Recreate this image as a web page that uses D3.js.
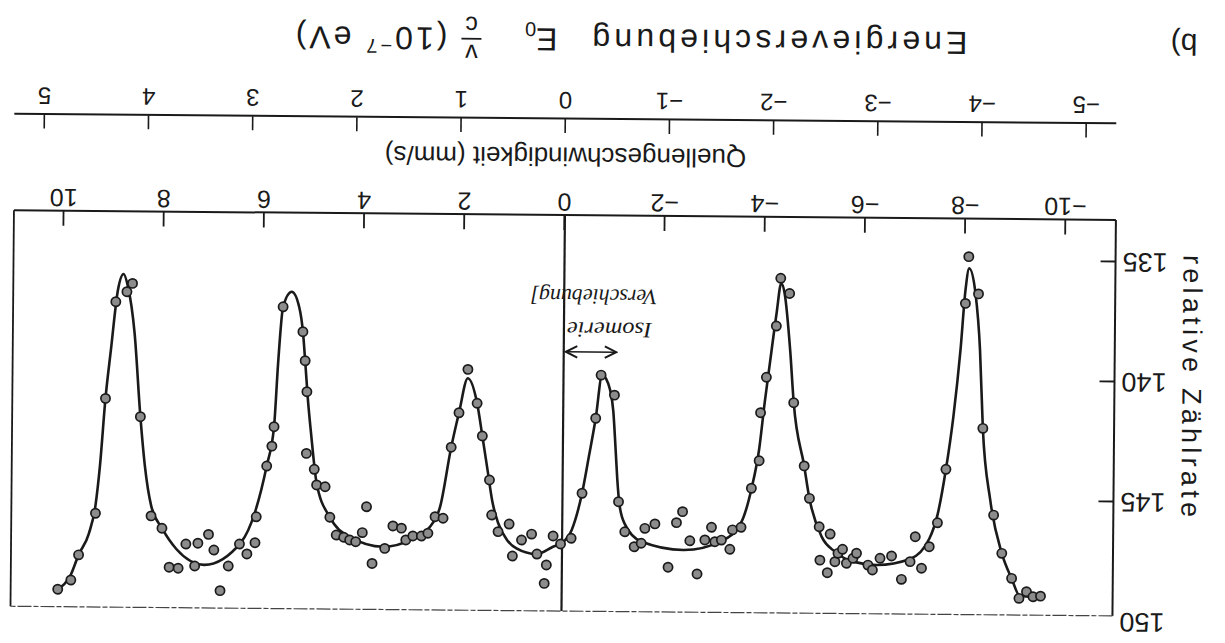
<!DOCTYPE html>
<html>
<head>
<meta charset="utf-8">
<script src="https://cdn.jsdelivr.net/npm/d3@7"></script>
<style>
  body { margin: 0; background: #fff; }
  text { font-family: "Liberation Sans", Arial, sans-serif; fill: #1a1a1a; }
</style>
</head>
<body>
<script>
// Mössbauer-Spektrum (Fe-Sextett), Vorlage ist um 180° gedreht gedruckt

// Messpunkte: [Quellengeschwindigkeit mm/s, relative Zählrate]
var messpunkte = [
  [10.06,149.02],[9.80,148.63],[9.65,147.58],[9.32,145.84],[9.14,141.05],[8.95,137.02],[8.73,136.60],[8.62,136.25],
  [8.44,141.80],[8.21,145.93],[7.99,146.44],[7.84,148.06],[7.66,148.10],[7.51,147.09],[7.33,148.00],[7.27,147.05],
  [7.06,146.68],[6.95,147.33],[6.82,149.02],[6.66,147.99],[6.44,147.07],[6.29,147.48],[6.13,147.01],[6.11,145.93],
  [5.91,143.81],[5.81,142.98],[5.77,142.17],[5.61,137.17],
  [5.21,138.20],[5.16,139.41],[5.12,140.70],[5.12,143.27],[4.96,143.93],[4.91,144.58],[4.74,144.65],[4.64,145.92],
  [4.51,146.66],[4.36,146.75],[4.24,146.86],[4.12,146.93],[3.99,146.55],[3.91,145.47],[3.79,147.83],[3.54,147.20],
  [3.38,146.26],[3.21,146.35],[3.12,146.84],[2.98,146.67],[2.81,146.67],[2.68,146.55],[2.54,145.86],[2.38,145.92],
  [2.23,142.96],[2.08,141.52],[1.91,139.71],[1.72,141.12],[1.61,142.48],[1.46,144.31],[1.41,145.77],[1.28,146.46],
  [1.06,146.14],[0.99,147.47],[0.81,146.80],[0.61,146.55],[0.50,147.38],[0.31,147.83],[0.35,148.60],[0.18,146.62],
  [0.03,146.95],[-0.18,146.71],[-0.39,144.83],[-0.65,141.70],[-0.75,139.90],[-1.02,140.73],[-1.12,145.17],[-1.25,146.42],
  [-1.44,147.04],[-1.58,146.89],[-1.65,146.27],[-1.85,146.08],[-2.12,147.88],[-2.28,146.02],[-2.40,145.56],[-2.55,146.77],
  [-2.70,148.15],[-2.85,146.73],[-2.98,146.20],[-3.05,146.80],[-3.18,146.73],[-3.35,147.11],[-3.40,146.30],[-3.57,146.19],
  [-3.77,144.56],[-3.92,143.41],[-3.94,141.41],[-4.05,139.93],[-4.24,137.79],[-4.32,135.80],[-4.50,136.43],[-4.60,140.98],
  [-4.82,143.61],[-4.93,144.96],[-5.13,146.14],[-5.15,147.53],[-5.30,148.05],[-5.35,146.44],[-5.45,147.59],
  [-5.51,147.24],[-5.60,147.07],[-5.68,147.65],[-5.81,147.44],[-5.88,147.23],[-6.11,147.72],[-6.20,147.92],[-6.35,147.43],
  [-6.58,147.33],[-6.78,148.30],[-6.95,147.56],[-7.05,146.52],[-7.18,147.83],[-7.33,146.93],[-7.49,145.93],[-7.65,143.70],
  [-8.01,136.78],[-8.07,134.83],[-8.27,136.38],[-8.38,141.98],[-8.61,145.59],[-8.78,147.18],[-8.98,148.22],[-9.13,149.05],
  [-9.28,148.77],[-9.41,148.98],[-9.56,148.95]
];

// angepasste Kurve
var fitkurve = [
  [-9.45,148.98],[-9.15,148.95],[-8.98,148.22],[-8.78,147.18],[-8.54,144.96],[-8.38,141.98],[-8.31,138.72],[-8.21,136.36],
  [-8.08,135.32],[-8.01,136.22],[-7.92,138.73],[-7.79,141.50],[-7.65,143.70],[-7.49,145.60],[-7.33,146.60],[-6.95,147.45],
  [-6.28,147.71],[-5.81,147.58],[-5.45,147.17],[-5.18,146.55],[-4.93,144.96],[-4.82,143.61],[-4.60,140.98],[-4.52,138.79],
  [-4.40,136.43],[-4.33,136.01],[-4.24,137.30],[-4.12,139.30],[-4.02,141.00],[-3.92,142.90],[-3.77,144.60],[-3.57,146.00],
  [-3.20,146.75],[-2.42,147.16],[-1.58,146.82],[-1.25,146.10],[-1.14,145.30],[-1.09,144.20],[-1.05,142.90],[-1.00,141.40],
  [-0.93,140.50],[-0.85,140.05],[-0.77,139.90],[-0.65,141.70],[-0.52,143.30],[-0.39,144.83],[-0.19,146.36],[0.01,146.92],
  [0.18,147.07],[0.51,147.38],[0.91,147.15],[1.10,146.80],[1.28,146.10],[1.40,145.20],[1.50,143.90],[1.61,142.48],
  [1.72,141.12],[1.91,140.08],[2.08,141.52],[2.23,142.96],[2.44,145.44],[2.64,146.28],[3.00,146.80],[3.57,147.13],
  [4.24,146.73],[4.64,145.92],[4.91,144.51],[5.03,142.43],[5.10,141.00],[5.16,139.41],[5.21,138.20],[5.29,137.16],
  [5.44,136.54],[5.61,137.17],[5.70,139.53],[5.77,142.17],[5.91,143.81],[6.13,145.70],[6.41,147.00],[7.14,147.95],
  [7.70,147.30],[7.99,146.44],[8.21,145.50],[8.34,143.88],[8.44,141.80],[8.57,138.32],[8.71,136.39],[8.80,135.86],
  [8.91,136.53],[9.04,139.03],[9.14,141.05],[9.24,143.90],[9.32,145.50],[9.45,146.70],[9.65,147.58],[9.80,148.40],
  [10.06,149.02]
];

var vTicks = [-10, -8, -6, -4, -2, 0, 2, 4, 6, 8, 10];
var eTicks = [-5, -4, -3, -2, -1, 0, 1, 2, 3, 4, 5];
var zTicks = [135, 140, 145, 150];
var mmProEinheit = 2.08;   // 1e-7 eV entspricht 2,08 mm/s (14,4 keV)

var width = 1225, height = 643;
var svg = d3.select("body").append("svg")
    .attr("width", width)
    .attr("height", height);

// ganze Abbildung steht auf dem Kopf (leicht schief gescannt)
var g = svg.append("g").attr("transform", "rotate(180.5, 612.5, 321.5)");

var boxTop = 31.5, boxBottom = 427.5, boxLeft = 110, boxRight = 1212;

var x = d3.scaleLinear().domain([-11, 11]).range([boxLeft, boxRight]);
var xE = d3.scaleLinear().domain([-11 / mmProEinheit, 11 / mmProEinheit]).range([boxLeft, boxRight]);
var y = d3.scaleLinear().domain([135, 150]).range([385.4, 25.4]);

// Rahmen
g.append("line").attr("x1", boxLeft).attr("x2", boxLeft).attr("y1", boxTop).attr("y2", boxBottom)
  .attr("stroke", "#1a1a1a").attr("stroke-width", 2);
g.append("line").attr("x1", boxRight).attr("x2", boxRight).attr("y1", boxTop).attr("y2", boxBottom)
  .attr("stroke", "#1a1a1a").attr("stroke-width", 1.8);
g.append("line").attr("x1", boxLeft).attr("x2", boxRight).attr("y1", boxBottom).attr("y2", boxBottom)
  .attr("stroke", "#1a1a1a").attr("stroke-width", 2);
g.append("line").attr("x1", boxLeft).attr("x2", boxRight).attr("y1", boxTop).attr("y2", boxTop)
  .attr("stroke", "#444").attr("stroke-width", 1.2).attr("stroke-dasharray", "14,2,5,2");

// Nulllinie
g.append("line").attr("x1", x(0)).attr("x2", x(0)).attr("y1", boxTop).attr("y2", boxBottom)
  .attr("stroke", "#1a1a1a").attr("stroke-width", 2.2);

// Geschwindigkeitsachse
var vAxis = g.append("g")
  .attr("transform", "translate(0," + boxBottom + ")")
  .call(d3.axisBottom(x).tickValues(vTicks).tickSizeInner(-15).tickSizeOuter(0).tickPadding(4));
vAxis.select(".domain").remove();
vAxis.selectAll("line").attr("stroke", "#1a1a1a").attr("stroke-width", 1.8);
vAxis.selectAll("text").style("font-size", "25px").style("font-family", "Liberation Sans");

// Zählrate
var zAxis = g.append("g")
  .attr("transform", "translate(" + boxLeft + ",0)")
  .call(d3.axisLeft(y).tickValues(zTicks).tickSizeInner(-15).tickPadding(7));
zAxis.select(".domain").remove();
zAxis.selectAll("line").attr("stroke", "#1a1a1a").attr("stroke-width", 1.8)
  .filter(function(d) { return d === 150; }).remove();
zAxis.selectAll("text").style("font-size", "27px").style("font-family", "Liberation Sans");

// Energieachse
var eAxis = g.append("g")
  .attr("transform", "translate(0,523.6)")
  .call(d3.axisBottom(xE).tickValues(eTicks).tickSizeInner(-14).tickSizeOuter(0).tickPadding(10));
eAxis.select(".domain").attr("stroke", "#1a1a1a").attr("stroke-width", 2);
eAxis.selectAll("line").attr("stroke", "#1a1a1a").attr("stroke-width", 1.6);
eAxis.selectAll("text").style("font-size", "24px").style("font-family", "Liberation Sans");

// Kurve
var line = d3.line()
  .x(function(d) { return x(d[0]); })
  .y(function(d) { return y(d[1]); })
  .curve(d3.curveMonotoneX);
g.append("path").datum(fitkurve)
  .attr("d", line)
  .attr("fill", "none")
  .attr("stroke", "#1a1a1a")
  .attr("stroke-width", 2.6);

// Punkte
g.selectAll("circle.pt").data(messpunkte).enter()
  .append("circle")
  .attr("class", "pt")
  .attr("cx", function(d) { return x(d[0]); })
  .attr("cy", function(d) { return y(d[1]); })
  .attr("r", 4.6)
  .attr("fill", "#8c8c8c")
  .attr("stroke", "#1a1a1a")
  .attr("stroke-width", 1.7);

// Beschriftungen
g.append("text").attr("x", x(0)).attr("y", 486).attr("text-anchor", "middle")
  .attr("dominant-baseline", "central").style("font-size", "26px")
  .text("Quellengeschwindigkeit (mm/s)");

g.append("text").attr("transform", "translate(33,262) rotate(-90)")
  .attr("text-anchor", "middle").attr("dominant-baseline", "central")
  .style("font-size", "27px").attr("textLength", 262).attr("lengthAdjust", "spacing")
  .text("relative Zählrate");

var titelY = 614;
g.append("text").attr("x", 260).attr("y", titelY).style("font-size", "32px")
  .attr("textLength", 375).attr("lengthAdjust", "spacing")
  .text("Energieverschiebung");
var e0 = g.append("text").attr("x", 670).attr("y", titelY).style("font-size", "32px");
e0.append("tspan").text("E");
e0.append("tspan").attr("dy", 6).style("font-size", "20px").text("0");
g.append("text").attr("x", 756).attr("y", 597).attr("text-anchor", "middle").style("font-size", "25px").text("v");
g.append("line").attr("x1", 746).attr("x2", 766).attr("y1", 603).attr("y2", 603)
  .attr("stroke", "#1a1a1a").attr("stroke-width", 1.6);
g.append("text").attr("x", 756).attr("y", 625).attr("text-anchor", "middle").style("font-size", "25px").text("c");
var einheit = g.append("text").attr("x", 780).attr("y", titelY).style("font-size", "32px")
  .style("letter-spacing", "3px");
einheit.append("tspan").text("(10");
einheit.append("tspan").attr("dy", -12).style("font-size", "20px").text("−7");
einheit.append("tspan").attr("dy", 12).text(" eV)");

g.append("text").attr("x", 30).attr("y", titelY).style("font-size", "30px").text("b)");

// handschriftliche Notiz
var defs = svg.append("defs");
defs.append("marker").attr("id", "spitze").attr("viewBox", "0 0 10 10")
  .attr("refX", 9).attr("refY", 5).attr("markerWidth", 9).attr("markerHeight", 9)
  .attr("orient", "auto-start-reverse")
  .append("path").attr("d", "M1,1 L9,5 L1,9").attr("fill", "none")
  .attr("stroke", "#1a1a1a").attr("stroke-width", 1.4);
g.append("line").attr("x1", x(-1.05)).attr("x2", x(0) - 2)
  .attr("y1", y(138.94)).attr("y2", y(138.94))
  .attr("stroke", "#1a1a1a").attr("stroke-width", 1.6)
  .attr("marker-start", "url(#spitze)").attr("marker-end", "url(#spitze)");
g.append("text").attr("x", x(-0.91)).attr("y", y(138.02)).attr("text-anchor", "middle")
  .attr("dominant-baseline", "central").style("font-family", "Liberation Serif")
  .style("font-style", "italic").style("font-size", "22px")
  .attr("textLength", 85).attr("lengthAdjust", "spacingAndGlyphs").text("Isomerie");
g.append("text").attr("x", x(-0.59)).attr("y", y(136.64)).attr("text-anchor", "middle")
  .attr("dominant-baseline", "central").style("font-family", "Liberation Serif")
  .style("font-style", "italic").style("font-size", "22px")
  .attr("textLength", 127).attr("lengthAdjust", "spacingAndGlyphs").text("Verschiebung]");
</script>
</body>
</html>
